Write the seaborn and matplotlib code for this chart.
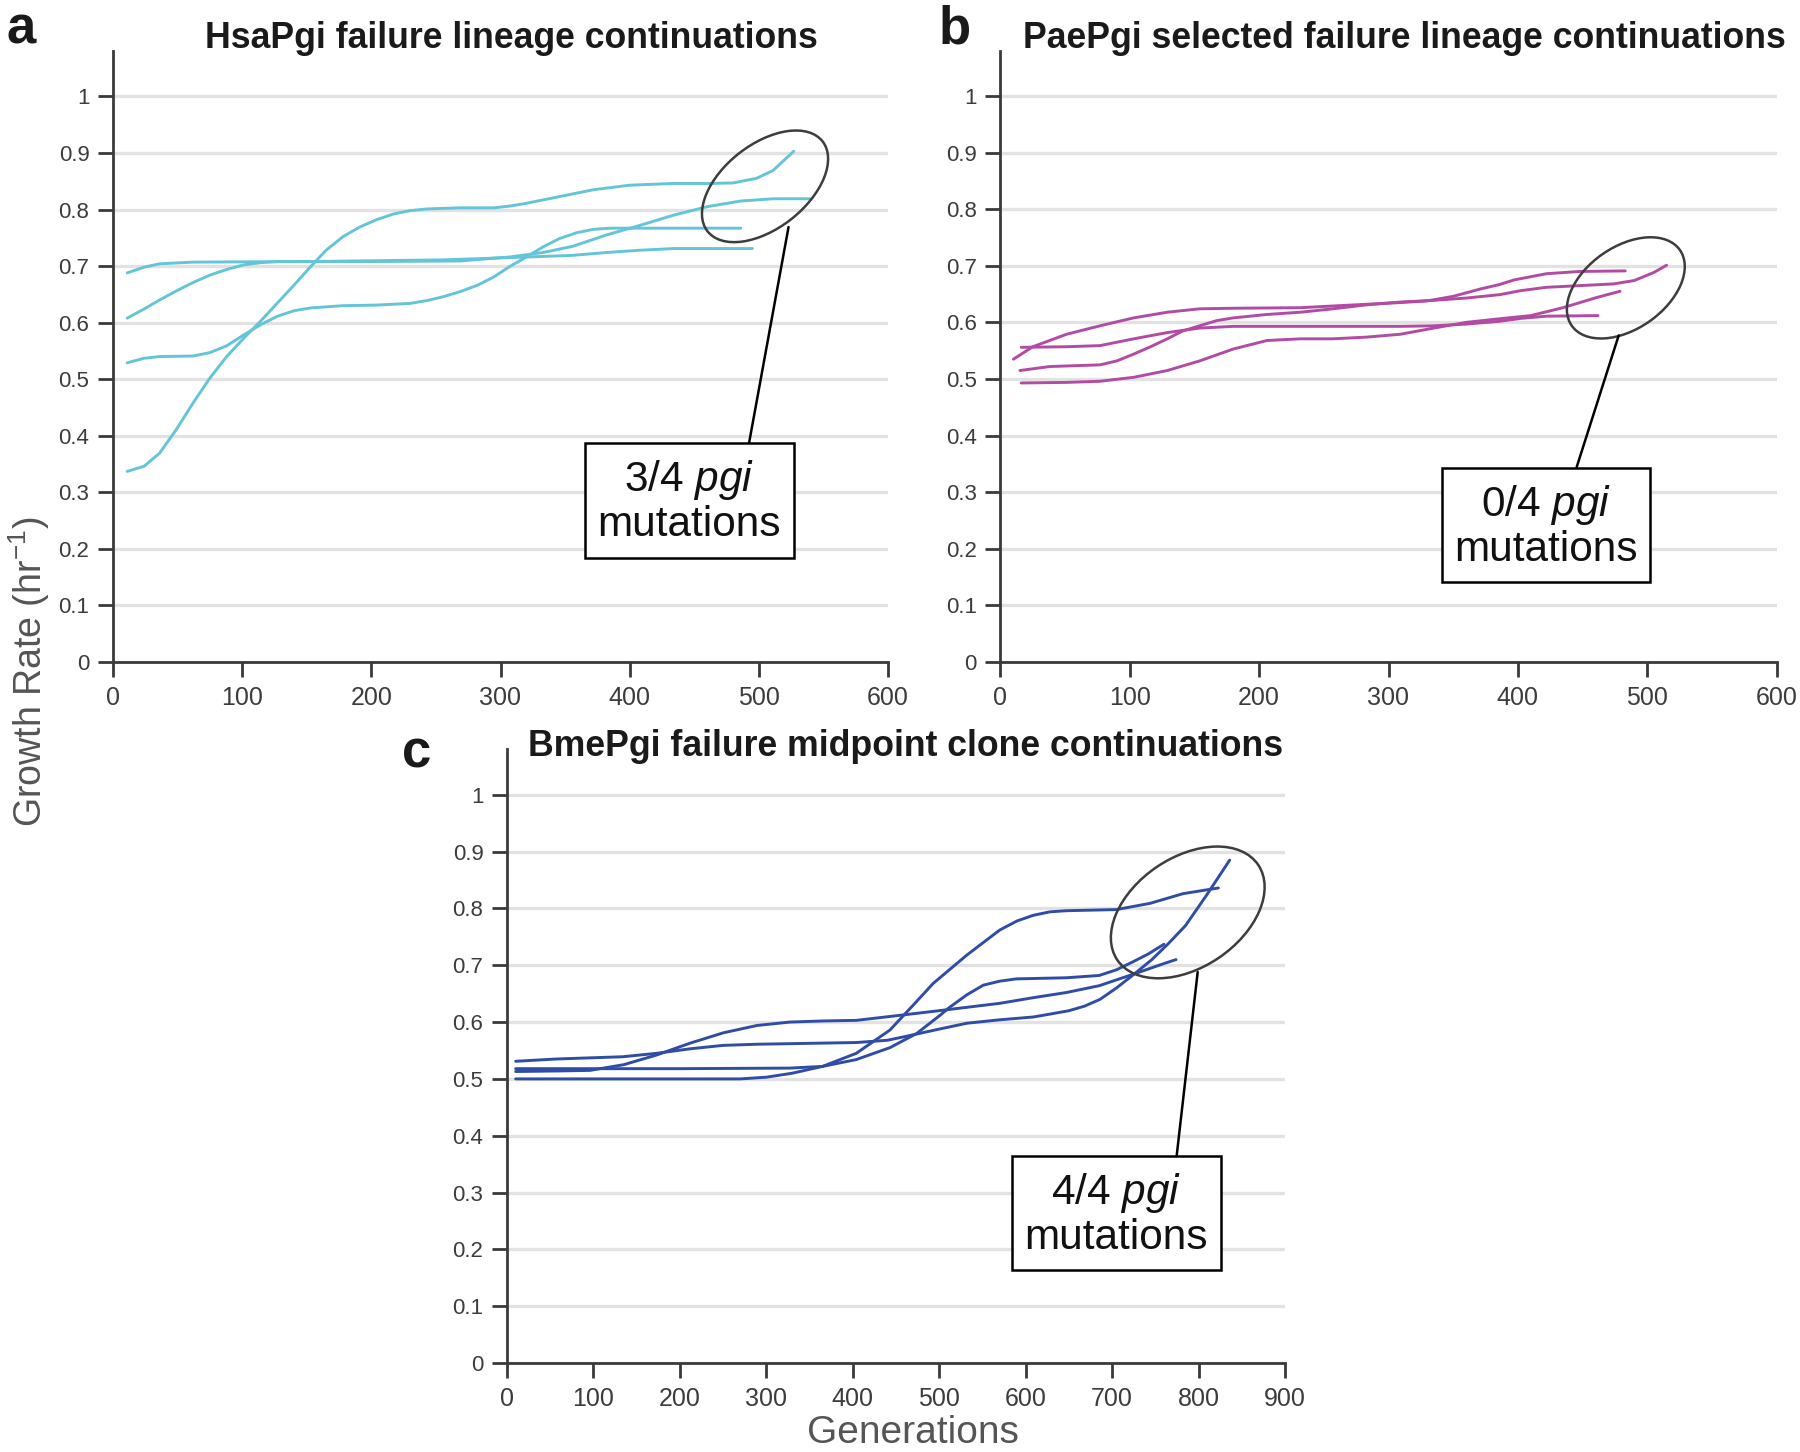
import pandas as pd
import seaborn as sns
import matplotlib.pyplot as plt
from matplotlib.patches import Ellipse
from matplotlib.transforms import ScaledTranslation

# ---- data (generations, growth rate) ----
# panel a: HsaPgi
a1_gen = [11, 24, 36, 49, 62, 75, 88, 101, 114, 127, 140, 153, 165, 178, 191, 204, 217, 230, 243, 269, 295, 307, 320, 346, 372, 400,
          433, 460, 480, 498, 511, 527]
a1_val = [0.337, 0.346, 0.369, 0.411, 0.458, 0.502, 0.54, 0.572, 0.602, 0.634, 0.666, 0.699, 0.728, 0.752, 0.769, 0.782, 0.792, 0.798, 0.801, 0.803, 0.803, 0.806, 0.811, 0.823, 0.835, 0.843,
          0.846, 0.846, 0.847, 0.855, 0.869, 0.903]
a2_gen = [11, 24, 36, 62, 75, 88, 101, 114, 127, 140, 153, 178, 204, 230, 243, 256, 269, 282, 295, 307, 320, 333, 346, 359, 372, 385, 408, 486]
a2_val = [0.529, 0.537, 0.54, 0.541, 0.547, 0.559, 0.578, 0.596, 0.611, 0.621, 0.626, 0.63, 0.631, 0.634, 0.639, 0.646, 0.655, 0.666, 0.681, 0.699, 0.716, 0.734, 0.749, 0.759, 0.765, 0.767, 0.767, 0.767]
a3_gen = [11, 24, 36, 49, 62, 75, 88, 101, 114, 127, 200, 269, 295, 307, 320, 333, 356, 382, 408, 434, 460, 486, 511, 540]
a3_val = [0.608, 0.624, 0.64, 0.656, 0.671, 0.684, 0.694, 0.702, 0.706, 0.708, 0.708, 0.709, 0.714, 0.716, 0.72, 0.724, 0.735, 0.755, 0.772, 0.79, 0.805, 0.815, 0.819, 0.819]
a4_gen = [11, 24, 36, 62, 150, 256, 320, 356, 382, 408, 434, 460, 495]
a4_val = [0.688, 0.698, 0.704, 0.707, 0.708, 0.711, 0.716, 0.719, 0.724, 0.728, 0.731, 0.731, 0.731]

# panel b: PaePgi
b1_gen = [10, 25, 51, 77, 103, 129, 154, 180, 232, 257, 283, 309, 330, 350, 371, 386, 397, 422, 448, 483]
b1_val = [0.535, 0.557, 0.579, 0.594, 0.608, 0.618, 0.624, 0.625, 0.626, 0.629, 0.632, 0.635, 0.638, 0.646, 0.659, 0.667, 0.675, 0.686, 0.69, 0.691]
b2_gen = [16, 51, 77, 103, 129, 154, 180, 257, 309, 335, 360, 386, 402, 422, 462]
b2_val = [0.556, 0.557, 0.559, 0.571, 0.582, 0.59, 0.593, 0.593, 0.593, 0.594, 0.597, 0.602, 0.607, 0.611, 0.612]
b3_gen = [15, 38, 77, 90, 103, 116, 129, 141, 154, 167, 180, 206, 232, 257, 283, 309, 335, 360, 386, 402, 422, 448, 474, 490, 505, 515]
b3_val = [0.515, 0.522, 0.525, 0.532, 0.544, 0.557, 0.571, 0.585, 0.594, 0.603, 0.608, 0.614, 0.618, 0.624, 0.631, 0.636, 0.639, 0.643, 0.649, 0.656, 0.662, 0.665, 0.668, 0.674, 0.688, 0.701]
b4_gen = [16, 51, 77, 103, 129, 154, 180, 206, 232, 257, 283, 309, 335, 360, 384, 410, 435, 461, 479]
b4_val = [0.493, 0.494, 0.496, 0.503, 0.515, 0.532, 0.553, 0.568, 0.571, 0.571, 0.574, 0.579, 0.59, 0.6, 0.606, 0.612, 0.626, 0.644, 0.655]

# panel c: BmePgi
c1_gen = [10, 100, 200, 270, 300, 330, 365, 404, 443, 470, 493, 532, 570, 590, 609, 628, 647, 705, 744, 782, 823]
c1_val = [0.5, 0.5, 0.5, 0.5, 0.503, 0.51, 0.522, 0.545, 0.586, 0.63, 0.668, 0.718, 0.762, 0.778, 0.788, 0.794, 0.796, 0.798, 0.809, 0.826, 0.836]
c2_gen = [10, 57, 134, 173, 212, 250, 289, 327, 404, 440, 462, 501, 532, 570, 609, 628, 650, 668, 686, 705, 726, 746, 765, 785, 810, 836]
c2_val = [0.531, 0.535, 0.539, 0.545, 0.553, 0.559, 0.561, 0.562, 0.564, 0.568, 0.575, 0.588, 0.598, 0.604, 0.609, 0.614, 0.62, 0.628, 0.64, 0.66, 0.685, 0.71, 0.738, 0.77, 0.825, 0.885]
c3_gen = [10, 100, 200, 327, 365, 404, 443, 474, 501, 512, 532, 551, 570, 589, 647, 685, 705, 724, 742, 760]
c3_val = [0.518, 0.518, 0.518, 0.519, 0.522, 0.534, 0.555, 0.58, 0.612, 0.626, 0.648, 0.665, 0.672, 0.676, 0.678, 0.682, 0.692, 0.706, 0.72, 0.737]
c4_gen = [10, 60, 96, 135, 173, 212, 250, 289, 327, 366, 404, 455, 494, 532, 570, 609, 647, 685, 724, 760, 774]
c4_val = [0.513, 0.514, 0.515, 0.525, 0.542, 0.563, 0.581, 0.594, 0.6, 0.602, 0.603, 0.612, 0.619, 0.626, 0.633, 0.643, 0.652, 0.664, 0.684, 0.703, 0.71]

y_ticks = [0, 0.1, 0.2, 0.3, 0.4, 0.5, 0.6, 0.7, 0.8, 0.9, 1]
y_labels = ["0", "0.1", "0.2", "0.3", "0.4", "0.5", "0.6", "0.7", "0.8", "0.9", "1"]


def to_long(gens, vals):
    frames = []
    for i, (g, v) in enumerate(zip(gens, vals)):
        frames.append(pd.DataFrame({"gen": g, "rate": v, "lineage": i}))
    return pd.concat(frames, ignore_index=True)


sns.set_style("white")
plt.rcParams['font.family'] = ['Liberation Sans', 'DejaVu Sans']
plt.rcParams['mathtext.fontset'] = 'custom'
plt.rcParams['mathtext.rm'] = 'Liberation Sans'
plt.rcParams['mathtext.it'] = 'Liberation Sans:italic'

W, H = 1800, 1452
fig = plt.figure(figsize=(18, 14.52), dpi=100)

ax_a = fig.add_axes([113 / W, 1 - 662 / H, 775 / W, 1.08 * 565.6 / H])
ax_b = fig.add_axes([1000.5 / W, 1 - 662 / H, 776 / W, 1.08 * 566 / H])
ax_c = fig.add_axes([507 / W, 1 - 1363 / H, 778 / W, 1.08 * 568.2 / H])

panels = [
    (ax_a, to_long([a1_gen, a2_gen, a3_gen, a4_gen], [a1_val, a2_val, a3_val, a4_val]), "#63c5d7", 600),
    (ax_b, to_long([b1_gen, b2_gen, b3_gen, b4_gen], [b1_val, b2_val, b3_val, b4_val]), "#b24ba3", 600),
    (ax_c, to_long([c1_gen, c2_gen, c3_gen, c4_gen], [c1_val, c2_val, c3_val, c4_val]), "#2f4ca6", 900),
]

for ax, df, color, xmax in panels:
    ax.set_axisbelow(True)
    ax.yaxis.grid(True, color="#e2e2e2", lw=2.4)
    sns.lineplot(data=df, x="gen", y="rate", units="lineage", estimator=None,
                 sort=False, color=color, lw=2.1, ax=ax, zorder=3)
    ax.set_xlim(0, xmax)
    ax.set_ylim(0, 1.08)
    ax.set_yticks(y_ticks)
    ax.set_yticklabels(y_labels)
    ax.set_xticks(range(0, xmax + 1, 100))
    ax.set_xlabel("")
    ax.set_ylabel("")
    for s in ["top", "right"]:
        ax.spines[s].set_visible(False)
    for s in ["left", "bottom"]:
        ax.spines[s].set_color("#3a3a3a")
        ax.spines[s].set_linewidth(2)
    ax.tick_params(axis="y", direction="out", length=11, width=2, color="#3a3a3a",
                   labelsize=16, labelcolor="#3c3c3c", pad=6, left=True)
    ax.tick_params(axis="x", direction="out", length=11, width=2, color="#3a3a3a",
                   labelsize=18, labelcolor="#3c3c3c", pad=6, bottom=True)

# ellipses, leader lines and boxed notes
notes = [
    (ax_a, (504.8, 0.841), 1.46, 0.84, 38, (523, 0.769), (446.3, 0.284), 0.81, "3/4 $\\it{pgi}$\nmutations"),
    (ax_b, (483.5, 0.661), 1.32, 0.82, 35, (478, 0.577), (421.8, 0.240), 0.64, "0/4 $\\it{pgi}$\nmutations"),
    (ax_c, (787.5, 0.793), 1.70, 1.10, 34, (799, 0.688), (704.8, 0.262), 0.82, "4/4 $\\it{pgi}$\nmutations"),
]
for ax, center, ew, eh, ang, start, boxpos, rel, txt in notes:
    trans = fig.dpi_scale_trans + ScaledTranslation(center[0], center[1], ax.transData)
    ax.add_patch(Ellipse((0, 0), ew, eh, angle=ang, transform=trans, fill=False,
                         ec="#3d3d3d", lw=1.8, zorder=5, clip_on=False))
    ax.annotate(txt, xy=start, xytext=boxpos, ha="center", va="center",
                fontsize=30.5, color="#111111", linespacing=1.1, zorder=6,
                bbox=dict(boxstyle="square,pad=0.3", fc="white", ec="black", lw=1.8),
                arrowprops=dict(arrowstyle="-", color="black", lw=1.8, relpos=(rel, 1.0),
                                shrinkA=0, shrinkB=0))

# titles and panel letters
fig.text(511 / W, 1 - 38 / H, "HsaPgi failure lineage continuations", ha="center", va="center",
         fontsize=25.7, fontweight="bold", color="#1a1a1a")
fig.text(1404 / W, 1 - 38 / H, "PaePgi selected failure lineage continuations", ha="center", va="center",
         fontsize=25.7, fontweight="bold", color="#1a1a1a")
fig.text(906 / W, 1 - 747 / H, "BmePgi failure midpoint clone continuations", ha="center", va="center",
         fontsize=25.7, fontweight="bold", color="#1a1a1a")
fig.text(21 / W, 1 - 29 / H, "a", ha="center", va="center", fontsize=38, fontweight="bold", color="#1a1a1a")
fig.text(955 / W, 1 - 29 / H, "b", ha="center", va="center", fontsize=38, fontweight="bold", color="#1a1a1a")
fig.text(417 / W, 1 - 754 / H, "c", ha="center", va="center", fontsize=38, fontweight="bold", color="#1a1a1a")

fig.text(29 / W, 1 - 672 / H, "Growth Rate (hr$^{-1}$)", rotation=90, ha="center", va="center",
         fontsize=27, color="#555555")
fig.text(913 / W, 1 - 1433 / H, "Generations", ha="center", va="center", fontsize=28, color="#555555")

fig.savefig("out.png", dpi=100)
